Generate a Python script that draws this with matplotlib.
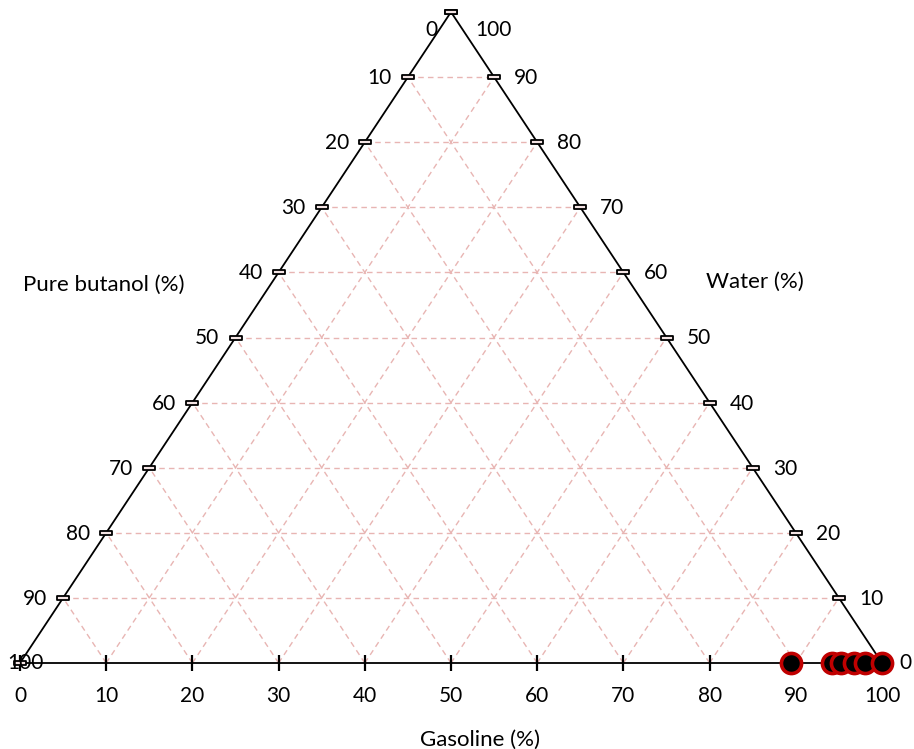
import numpy as np
import matplotlib.pyplot as plt
from matplotlib.path import Path

plt.rcParams['font.family'] = ['Lato', 'DejaVu Sans']

# дані: склад сумішей (%)
gasoline = [89.5, 94.2, 95.3, 96.7, 98.0, 100.0]
water = [0, 0, 0, 0, 0, 0]
butanol = [100 - g - w for g, w in zip(gasoline, water)]

ticks = list(range(0, 101, 10))
bottom_labels = [str(t) for t in ticks]

grid_color = '#e8b5b3'


# перетворення трикомпонентних координат у декартові
def tern(g, w):
    return g + w / 2.0, w


fig = plt.figure(figsize=(9.14, 7.49), dpi=100)
ax = fig.add_axes([20 / 914, 86 / 749, 862 / 914, 651 / 749])
ax.set_xlim(0, 100)
ax.set_ylim(0, 100)
ax.axis('off')

# сітка
for k in ticks[1:-1]:
    # вода = const
    x0, y0 = tern(0, k)
    x1, y1 = tern(100 - k, k)
    ax.plot([x0, x1], [y0, y1], ls='--', color=grid_color, lw=1, dashes=(4, 3), zorder=1)
    # бензин = const
    x0, y0 = tern(k, 0)
    x1, y1 = tern(k, 100 - k)
    ax.plot([x0, x1], [y0, y1], ls='--', color=grid_color, lw=1, dashes=(4, 3), zorder=1)
    # бутанол = const
    x0, y0 = tern(100 - k, 0)
    x1, y1 = tern(0, 100 - k)
    ax.plot([x0, x1], [y0, y1], ls='--', color=grid_color, lw=1, dashes=(4, 3), zorder=1)

# сторони трикутника
ax.plot([0, 100, 50, 0], [0, 0, 100, 0], color='black', lw=1.3, zorder=2, clip_on=False)

# маленький прямокутник для поділок на бічних сторонах
rect = Path([(-2.5, -0.9), (2.5, -0.9), (2.5, 0.9), (-2.5, 0.9), (-2.5, -0.9)],
            [Path.MOVETO, Path.LINETO, Path.LINETO, Path.LINETO, Path.CLOSEPOLY])

# поділки
for k in ticks:
    ax.plot(k, 0, marker='|', ms=11.5, mew=1.6, color='black', zorder=3, clip_on=False)
    lx, ly = tern(0, 100 - k)
    ax.plot(lx, ly, marker=rect, ms=8, mew=1.3, mfc='#f4e4e4', mec='black', zorder=3, clip_on=False)
    rx, ry = tern(100 - k, k)
    ax.plot(rx, ry, marker=rect, ms=8, mew=1.3, mfc='#f4e4e4', mec='black', zorder=3, clip_on=False)

fs = 15
# підписи знизу
for k, lab in zip(ticks, bottom_labels):
    ax.annotate(lab, (k, 0), xytext=(0, -33), textcoords='offset pixels',
                ha='center', va='center', fontsize=fs)

# ліва сторона (бутанол) і права (вода)
for k in ticks:
    lx, ly = tern(0, 100 - k)
    rx, ry = tern(100 - k, k)
    if k == 0:
        ax.annotate('0', (lx, ly), xytext=(-14, -18), textcoords='offset pixels',
                    ha='right', va='center', fontsize=fs)
        ax.annotate('0', (100, 0), xytext=(17, 0), textcoords='offset pixels',
                    ha='left', va='center', fontsize=fs)
    elif k == 100:
        ax.annotate('100', (lx, ly), xytext=(5, 0), textcoords='offset pixels',
                    ha='center', va='center', fontsize=fs)
        ax.annotate('100', (rx, ry), xytext=(24, -18), textcoords='offset pixels',
                    ha='left', va='center', fontsize=fs)
    else:
        ax.annotate(str(k), (lx, ly), xytext=(-16, -1), textcoords='offset pixels',
                    ha='right', va='center', fontsize=fs)
        ax.annotate(str(k), (rx, ry), xytext=(20, -1), textcoords='offset pixels',
                    ha='left', va='center', fontsize=fs)

# назви осей
fs2 = 16
ax.annotate('Gasoline (%)', (50, 0), xytext=(29, -77), textcoords='offset pixels',
            ha='center', va='center', fontsize=fs2)
ax.annotate('Pure butanol (%)', (0, 0), xytext=(84, 378), textcoords='offset pixels',
            ha='center', va='center', fontsize=fs2)
ax.annotate('Water (%)', (100, 0), xytext=(-127, 381), textcoords='offset pixels',
            ha='center', va='center', fontsize=fs2)

# точки
for g, w in zip(gasoline, water):
    x, y = tern(g, w)
    ax.plot(x, y, 'o', ms=14.5, mfc='black', mec='#c00000', mew=2.6, zorder=5, clip_on=False)

fig.savefig('out.png', dpi=100)
